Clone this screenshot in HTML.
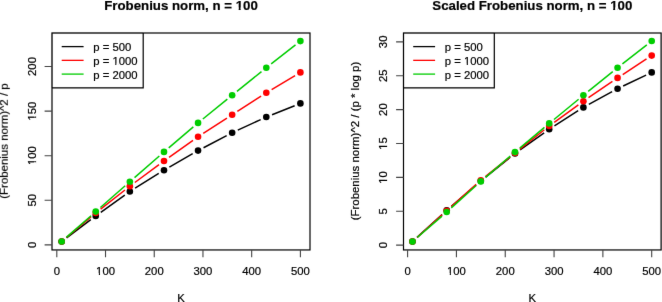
<!DOCTYPE html>
<html><head><meta charset="utf-8"><style>
html,body{margin:0;padding:0;background:#fff;width:662px;height:302px;overflow:hidden}
svg{display:block}
text{font-family:"Liberation Sans", sans-serif;fill:#000;stroke:#000;stroke-width:0.2px;font-kerning:none;white-space:pre}
</style></head><body>
<svg width="662" height="302" viewBox="0 0 662 302">
<defs><filter id="b" color-interpolation-filters="sRGB" filterUnits="userSpaceOnUse" x="0" y="0" width="662" height="302"><feConvolveMatrix order="3" kernelMatrix="0.0036 0.0528 0.0036 0.0528 0.7744 0.0528 0.0036 0.0528 0.0036" divisor="1" edgeMode="duplicate"/></filter></defs>
<g filter="url(#b)">
<rect width="662" height="302" fill="#fff"/>
<path d="M66.61 237.78L90.79 219.62M100.79 212.29L124.81 195.11M135.11 188.22L158.74 173.48M169.37 167.11L192.68 153.69M203.54 147.72L226.66 135.58M237.78 130.11L260.67 119.59M272.06 114.70L294.64 105.70" stroke="#000000" stroke-width="1.5" fill="none"/>
<circle cx="61.65" cy="241.50" r="3.3" fill="#000000"/>
<circle cx="95.75" cy="215.90" r="3.3" fill="#000000"/>
<circle cx="129.85" cy="191.50" r="3.3" fill="#000000"/>
<circle cx="164.00" cy="170.20" r="3.3" fill="#000000"/>
<circle cx="198.05" cy="150.60" r="3.3" fill="#000000"/>
<circle cx="232.15" cy="132.70" r="3.3" fill="#000000"/>
<circle cx="266.30" cy="117.00" r="3.3" fill="#000000"/>
<circle cx="300.40" cy="103.40" r="3.3" fill="#000000"/>
<path d="M66.40 237.52L91.00 216.88M100.63 209.08L124.97 190.02M134.84 182.52L159.01 164.68M169.05 157.41L193.00 140.39M203.26 133.44L226.94 118.16M237.36 111.43L261.09 96.07M271.63 89.53L295.07 75.57" stroke="#ff0000" stroke-width="1.5" fill="none"/>
<circle cx="61.65" cy="241.50" r="3.3" fill="#ff0000"/>
<circle cx="95.75" cy="212.90" r="3.3" fill="#ff0000"/>
<circle cx="129.85" cy="186.20" r="3.3" fill="#ff0000"/>
<circle cx="164.00" cy="161.00" r="3.3" fill="#ff0000"/>
<circle cx="198.05" cy="136.80" r="3.3" fill="#ff0000"/>
<circle cx="232.15" cy="114.80" r="3.3" fill="#ff0000"/>
<circle cx="266.30" cy="92.70" r="3.3" fill="#ff0000"/>
<circle cx="300.40" cy="72.40" r="3.3" fill="#ff0000"/>
<path d="M66.31 237.41L91.09 215.69M100.41 207.51L125.19 185.79M134.52 177.62L159.33 155.98M168.72 147.88L193.33 126.92M202.87 119.00L227.33 99.20M236.97 91.40L261.48 71.60M271.19 63.89L295.51 44.91" stroke="#00cd00" stroke-width="1.5" fill="none"/>
<circle cx="61.65" cy="241.50" r="3.3" fill="#00cd00"/>
<circle cx="95.75" cy="211.60" r="3.3" fill="#00cd00"/>
<circle cx="129.85" cy="181.70" r="3.3" fill="#00cd00"/>
<circle cx="164.00" cy="151.90" r="3.3" fill="#00cd00"/>
<circle cx="198.05" cy="122.90" r="3.3" fill="#00cd00"/>
<circle cx="232.15" cy="95.30" r="3.3" fill="#00cd00"/>
<circle cx="266.30" cy="67.70" r="3.3" fill="#00cd00"/>
<circle cx="300.40" cy="41.10" r="3.3" fill="#00cd00"/>
<rect x="52.00" y="33.00" width="258.00" height="216.95" fill="none" stroke="#000" stroke-width="1.2"/>
<path d="M56.80 249.95V257.15M105.52 249.95V257.15M154.24 249.95V257.15M202.96 249.95V257.15M251.68 249.95V257.15M300.40 249.95V257.15" stroke="#444" stroke-width="1.1" fill="none"/>
<g transform="translate(56.800 274.600)"><text x="-3.142" y="0" font-size="11.3">0</text></g>
<g transform="translate(105.520 274.600)"><text x="-9.427" y="0" font-size="11.3">100</text><path d="M-10.227 -1.444H-6.665V1.200H-10.227ZM-5.507 -1.444H-3.082V1.200H-5.507Z" fill="#fff"/></g>
<g transform="translate(154.240 274.600)"><text x="-9.427" y="0" font-size="11.3">200</text></g>
<g transform="translate(202.960 274.600)"><text x="-9.427" y="0" font-size="11.3">300</text></g>
<g transform="translate(251.680 274.600)"><text x="-9.427" y="0" font-size="11.3">400</text></g>
<g transform="translate(300.400 274.600)"><text x="-9.427" y="0" font-size="11.3">500</text></g>
<path d="M52.00 244.90H44.60M52.00 200.30H44.60M52.00 155.70H44.60M52.00 111.10H44.60M52.00 66.50H44.60" stroke="#444" stroke-width="1.1" fill="none"/>
<g transform="translate(35.600 244.900) rotate(-90)"><text x="-3.142" y="0" font-size="11.3">0</text></g>
<g transform="translate(35.600 200.300) rotate(-90)"><text x="-6.285" y="0" font-size="11.3">50</text></g>
<g transform="translate(35.600 155.700) rotate(-90)"><text x="-9.427" y="0" font-size="11.3">100</text><path d="M-10.227 -1.444H-6.665V1.200H-10.227ZM-5.507 -1.444H-3.082V1.200H-5.507Z" fill="#fff"/></g>
<g transform="translate(35.600 111.100) rotate(-90)"><text x="-9.427" y="0" font-size="11.3">150</text><path d="M-10.227 -1.444H-6.665V1.200H-10.227ZM-5.507 -1.444H-3.082V1.200H-5.507Z" fill="#fff"/></g>
<g transform="translate(35.600 66.500) rotate(-90)"><text x="-9.427" y="0" font-size="11.3">200</text></g>
<g transform="translate(7.800 140.975) rotate(-90)"><text x="-57.731" y="0" font-size="11.45">(Frobenius norm)^2 / p</text></g>
<g transform="translate(181.000 301.700)"><text x="-3.769" y="0" font-size="11.3">K</text></g>
<g transform="translate(181.000 9.550)"><text x="-76.757" y="0" font-size="13.25" font-weight="bold" style="stroke-width:0.2px">Frobenius norm, n = 100</text><path d="M53.850 -1.952H57.662V1.200H53.850ZM59.640 -1.952H62.090V1.200H59.640Z" fill="#fff"/></g>
<path d="M52.00 87.80H143.20V33.00" fill="none" stroke="#000" stroke-width="1.2"/>
<path d="M52.00 87.80V33.00H143.20" fill="none" stroke="#000" stroke-width="1.2" stroke-opacity="0.25"/>
<path d="M61.70 46.60H83.60" stroke="#000000" stroke-width="1.3"/>
<g transform="translate(93.300 51.400)"><text x="0.000" y="0" font-size="11.3">p = 500</text></g>
<path d="M61.70 60.35H83.60" stroke="#ff0000" stroke-width="1.3"/>
<g transform="translate(93.300 65.150)"><text x="0.000" y="0" font-size="11.3">p = 1000</text><path d="M18.363 -1.444H21.924V1.200H18.363ZM23.083 -1.444H25.508V1.200H23.083Z" fill="#fff"/></g>
<path d="M61.70 74.10H83.60" stroke="#00cd00" stroke-width="1.3"/>
<g transform="translate(93.300 78.900)"><text x="0.000" y="0" font-size="11.3">p = 2000</text></g>
<path d="M417.07 237.41L442.13 214.49M451.40 206.26L476.10 185.04M485.62 177.11L510.18 157.29M520.06 149.82L544.14 132.78M554.43 125.87L578.17 110.73M588.84 104.42L612.11 91.68M623.15 86.03L646.10 75.07" stroke="#000000" stroke-width="1.5" fill="none"/>
<circle cx="412.50" cy="241.60" r="3.3" fill="#000000"/>
<circle cx="446.70" cy="210.30" r="3.3" fill="#000000"/>
<circle cx="480.80" cy="181.00" r="3.3" fill="#000000"/>
<circle cx="515.00" cy="153.40" r="3.3" fill="#000000"/>
<circle cx="549.20" cy="129.20" r="3.3" fill="#000000"/>
<circle cx="583.40" cy="107.40" r="3.3" fill="#000000"/>
<circle cx="617.55" cy="88.70" r="3.3" fill="#000000"/>
<circle cx="651.70" cy="72.40" r="3.3" fill="#000000"/>
<path d="M417.10 237.44L442.10 214.86M451.32 206.57L476.18 184.33M485.65 176.34L510.15 156.86M519.86 149.15L544.34 129.75M554.23 122.27L578.37 104.83M588.52 97.71L612.43 81.39M622.74 74.51L646.51 58.99" stroke="#ff0000" stroke-width="1.5" fill="none"/>
<circle cx="412.50" cy="241.60" r="3.3" fill="#ff0000"/>
<circle cx="446.70" cy="210.70" r="3.3" fill="#ff0000"/>
<circle cx="480.80" cy="180.20" r="3.3" fill="#ff0000"/>
<circle cx="515.00" cy="153.00" r="3.3" fill="#ff0000"/>
<circle cx="549.20" cy="125.90" r="3.3" fill="#ff0000"/>
<circle cx="583.40" cy="101.20" r="3.3" fill="#ff0000"/>
<circle cx="617.55" cy="77.90" r="3.3" fill="#ff0000"/>
<circle cx="651.70" cy="55.60" r="3.3" fill="#ff0000"/>
<path d="M417.19 237.54L442.01 216.06M451.31 207.86L476.19 185.54M485.51 177.37L510.29 156.13M519.75 148.11L544.45 127.39M553.99 119.46L578.61 99.24M588.22 91.40L612.73 71.60M622.43 63.88L646.82 44.82" stroke="#00cd00" stroke-width="1.5" fill="none"/>
<circle cx="412.50" cy="241.60" r="3.3" fill="#00cd00"/>
<circle cx="446.70" cy="212.00" r="3.3" fill="#00cd00"/>
<circle cx="480.80" cy="181.40" r="3.3" fill="#00cd00"/>
<circle cx="515.00" cy="152.10" r="3.3" fill="#00cd00"/>
<circle cx="549.20" cy="123.40" r="3.3" fill="#00cd00"/>
<circle cx="583.40" cy="95.30" r="3.3" fill="#00cd00"/>
<circle cx="617.55" cy="67.70" r="3.3" fill="#00cd00"/>
<circle cx="651.70" cy="41.00" r="3.3" fill="#00cd00"/>
<rect x="403.50" y="33.00" width="257.60" height="216.95" fill="none" stroke="#000" stroke-width="1.2"/>
<path d="M407.60 249.95V257.15M456.42 249.95V257.15M505.24 249.95V257.15M554.06 249.95V257.15M602.88 249.95V257.15M651.70 249.95V257.15" stroke="#444" stroke-width="1.1" fill="none"/>
<g transform="translate(407.600 274.600)"><text x="-3.142" y="0" font-size="11.3">0</text></g>
<g transform="translate(456.420 274.600)"><text x="-9.427" y="0" font-size="11.3">100</text><path d="M-10.227 -1.444H-6.665V1.200H-10.227ZM-5.507 -1.444H-3.082V1.200H-5.507Z" fill="#fff"/></g>
<g transform="translate(505.240 274.600)"><text x="-9.427" y="0" font-size="11.3">200</text></g>
<g transform="translate(554.060 274.600)"><text x="-9.427" y="0" font-size="11.3">300</text></g>
<g transform="translate(602.880 274.600)"><text x="-9.427" y="0" font-size="11.3">400</text></g>
<g transform="translate(651.700 274.600)"><text x="-9.427" y="0" font-size="11.3">500</text></g>
<path d="M403.50 245.15H396.10M403.50 211.27H396.10M403.50 177.38H396.10M403.50 143.50H396.10M403.50 109.62H396.10M403.50 75.73H396.10M403.50 41.85H396.10" stroke="#444" stroke-width="1.1" fill="none"/>
<g transform="translate(387.100 245.150) rotate(-90)"><text x="-3.142" y="0" font-size="11.3">0</text></g>
<g transform="translate(387.100 211.270) rotate(-90)"><text x="-3.142" y="0" font-size="11.3">5</text></g>
<g transform="translate(387.100 177.380) rotate(-90)"><text x="-6.285" y="0" font-size="11.3">10</text><path d="M-7.085 -1.444H-3.523V1.200H-7.085ZM-2.364 -1.444H0.061V1.200H-2.364Z" fill="#fff"/></g>
<g transform="translate(387.100 143.500) rotate(-90)"><text x="-6.285" y="0" font-size="11.3">15</text><path d="M-7.085 -1.444H-3.523V1.200H-7.085ZM-2.364 -1.444H0.061V1.200H-2.364Z" fill="#fff"/></g>
<g transform="translate(387.100 109.620) rotate(-90)"><text x="-6.285" y="0" font-size="11.3">20</text></g>
<g transform="translate(387.100 75.730) rotate(-90)"><text x="-6.285" y="0" font-size="11.3">25</text></g>
<g transform="translate(387.100 41.850) rotate(-90)"><text x="-6.285" y="0" font-size="11.3">30</text></g>
<g transform="translate(359.300 140.975) rotate(-90)"><text x="-79.367" y="0" font-size="11.45">(Frobenius norm)^2 / (p * log p)</text></g>
<g transform="translate(532.300 301.700)"><text x="-3.769" y="0" font-size="11.3">K</text></g>
<g transform="translate(532.300 9.550)"><text x="-99.957" y="0" font-size="13.25" font-weight="bold" style="stroke-width:0.2px">Scaled Frobenius norm, n = 100</text><path d="M77.050 -1.952H80.863V1.200H77.050ZM82.841 -1.952H85.290V1.200H82.841Z" fill="#fff"/></g>
<path d="M403.50 87.80H494.30V33.00" fill="none" stroke="#000" stroke-width="1.2"/>
<path d="M403.50 87.80V33.00H494.30" fill="none" stroke="#000" stroke-width="1.2" stroke-opacity="0.25"/>
<path d="M413.20 46.60H435.10" stroke="#000000" stroke-width="1.3"/>
<g transform="translate(444.800 51.400)"><text x="0.000" y="0" font-size="11.3">p = 500</text></g>
<path d="M413.20 60.35H435.10" stroke="#ff0000" stroke-width="1.3"/>
<g transform="translate(444.800 65.150)"><text x="0.000" y="0" font-size="11.3">p = 1000</text><path d="M18.363 -1.444H21.924V1.200H18.363ZM23.083 -1.444H25.508V1.200H23.083Z" fill="#fff"/></g>
<path d="M413.20 74.10H435.10" stroke="#00cd00" stroke-width="1.3"/>
<g transform="translate(444.800 78.900)"><text x="0.000" y="0" font-size="11.3">p = 2000</text></g>
</g>
</svg>
</body></html>
